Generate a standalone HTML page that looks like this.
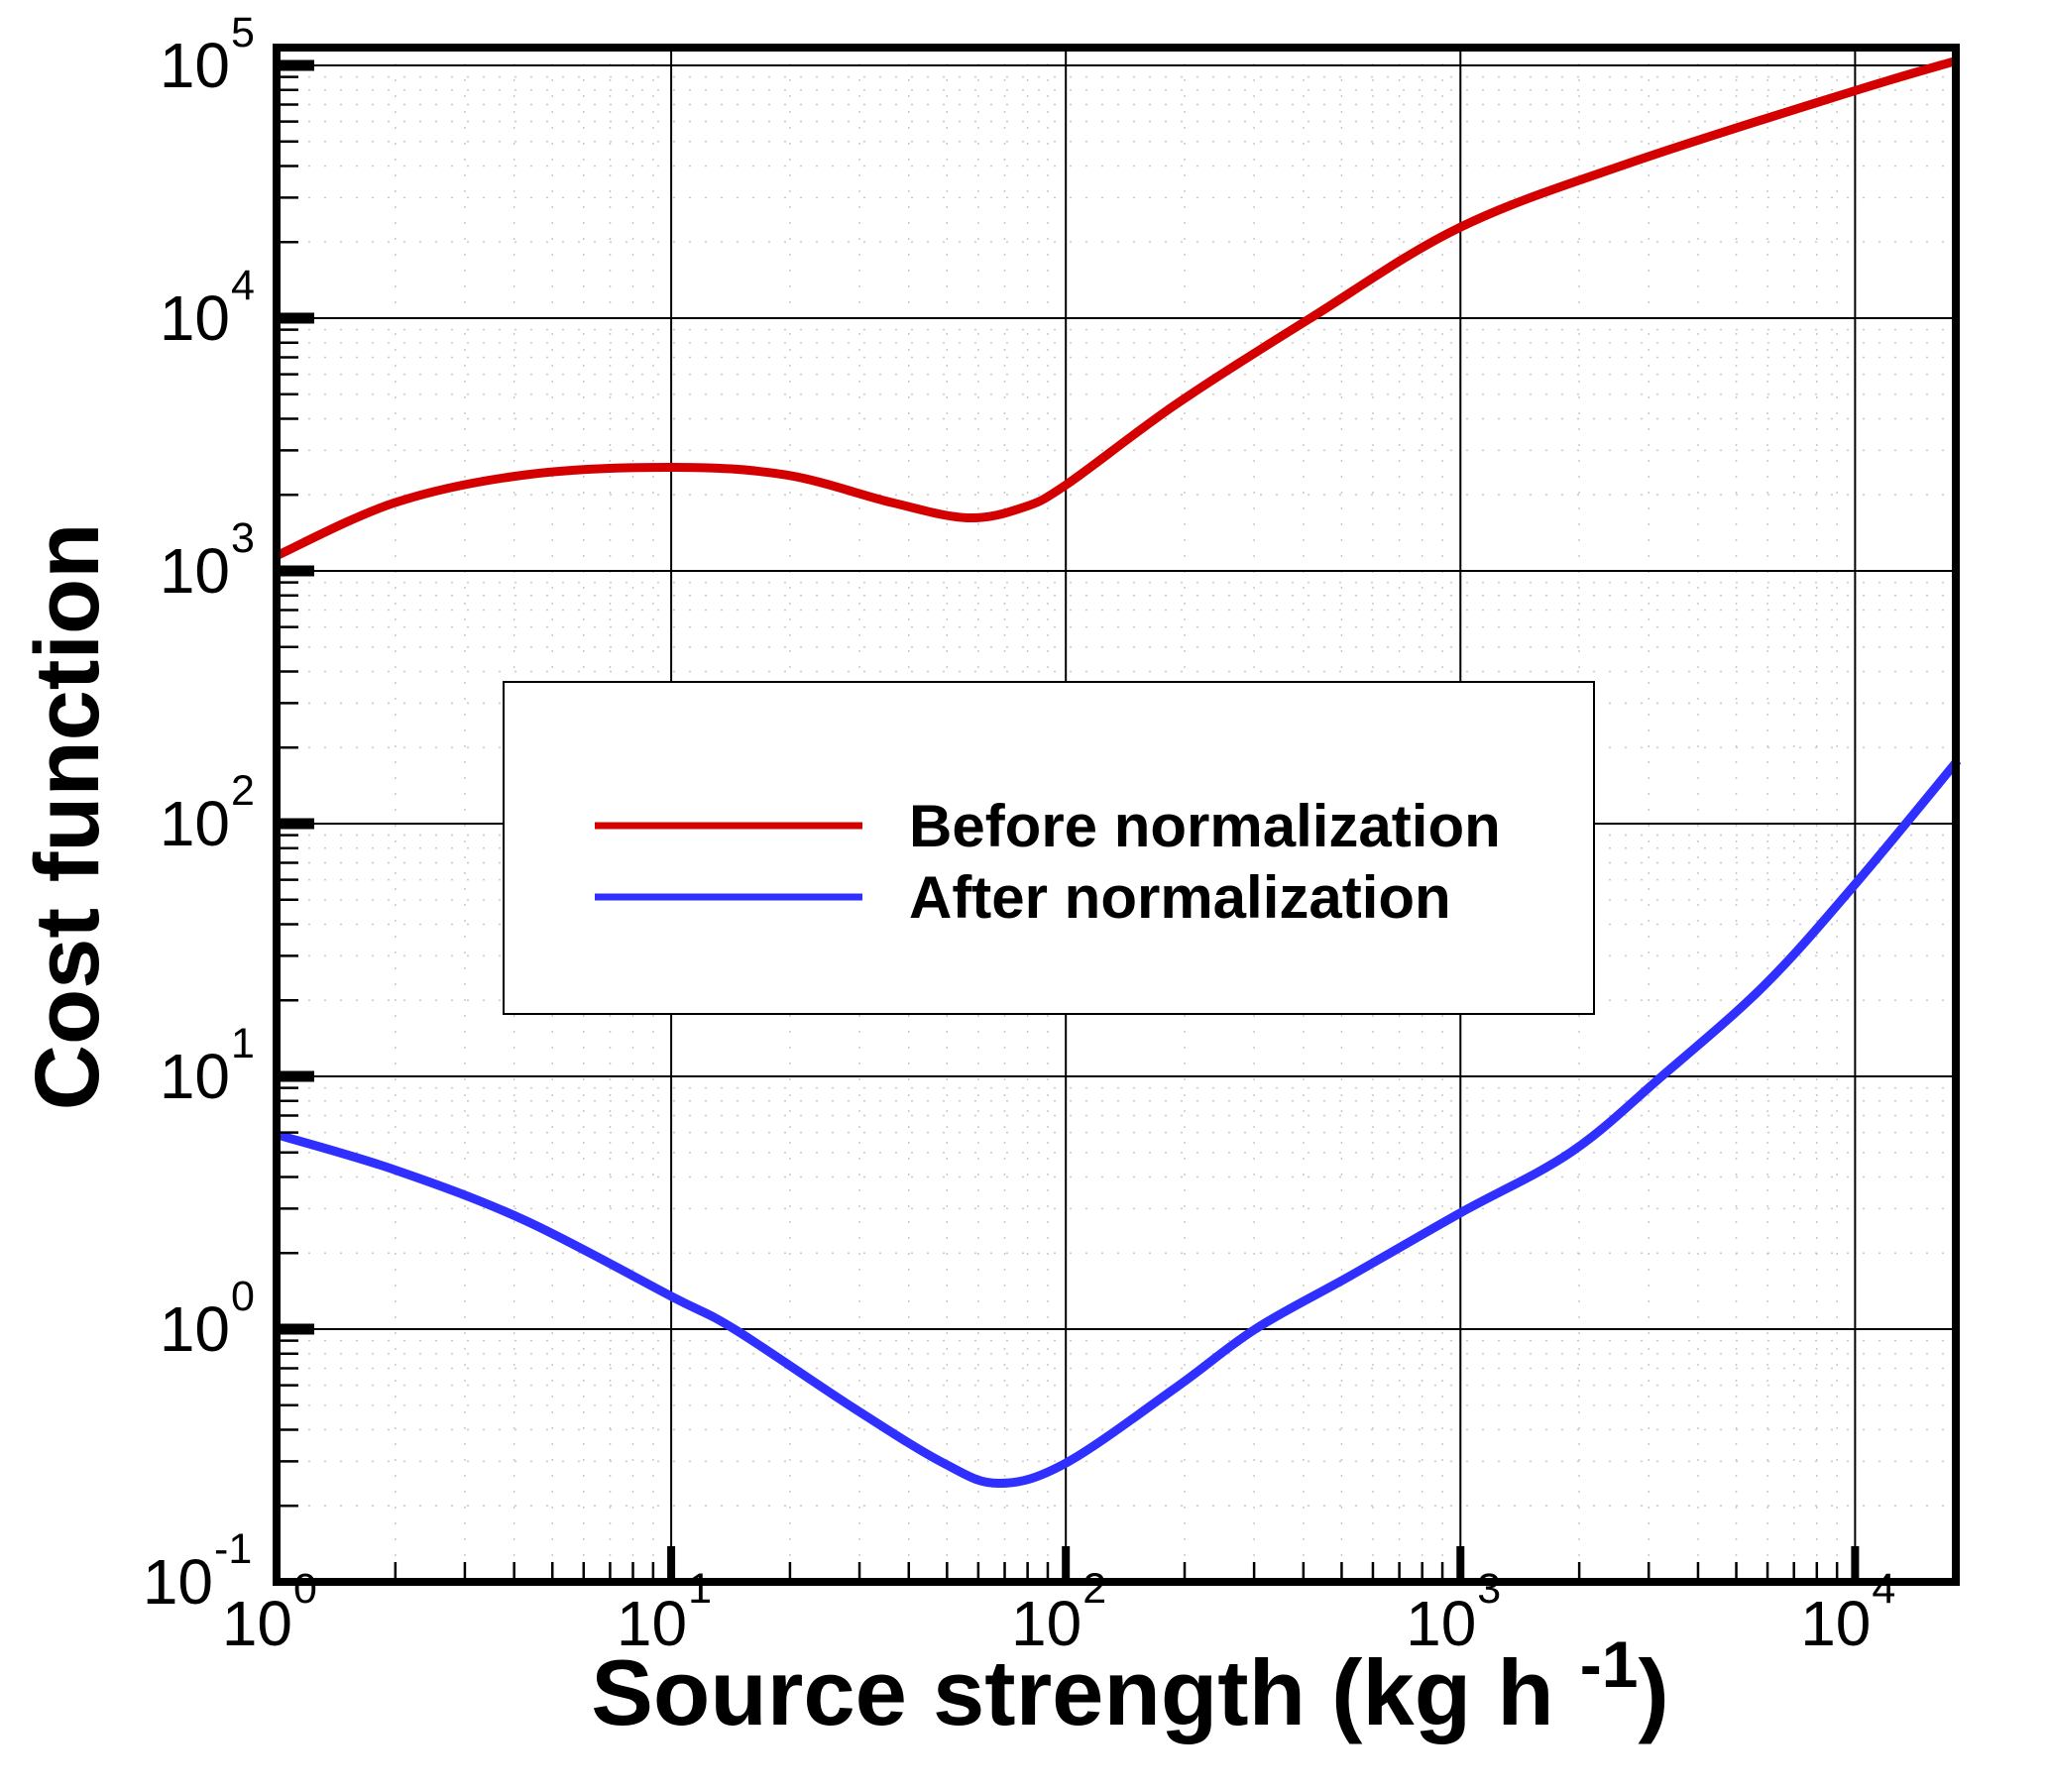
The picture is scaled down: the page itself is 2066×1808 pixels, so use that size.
<!DOCTYPE html>
<html><head><meta charset="utf-8"><style>
html,body{margin:0;padding:0;background:#fff;}
svg{display:block;font-family:"Liberation Sans",Arial,sans-serif;}
</style></head><body>
<svg id="chart" width="2066" height="1808" viewBox="0 0 2066 1808" xmlns="http://www.w3.org/2000/svg">
<g id="grid"></g>
<g id="series"></g>
<g id="axes"></g>
<g id="legend"></g>
<text x="1140" y="1740" text-anchor="middle" font-size="94" font-weight="bold">Source strength (kg h <tspan font-size="66" dy="-38">-1</tspan><tspan dy="38">)</tspan></text>
<text transform="translate(99,824) rotate(-90)" text-anchor="middle" font-size="92" font-weight="bold">Cost function</text>
</svg>
<script>
// data (log10 values)
const redLogX = [0, 0.30, 0.63, 1.0, 1.29, 1.56, 1.75, 1.89, 2.0, 2.28, 2.62, 3.0, 3.44, 4.0, 4.26];
const redLogY = [3.06, 3.27, 3.38, 3.41, 3.38, 3.27, 3.21, 3.25, 3.34, 3.66, 4.0, 4.36, 4.62, 4.90, 5.02];
const blueLogX = [0, 0.30, 0.63, 1.0, 1.16, 1.46, 1.69, 1.83, 2.0, 2.28, 2.48, 2.72, 3.0, 3.28, 3.51, 3.77, 4.0, 4.26];
const blueLogY = [0.77, 0.63, 0.43, 0.13, 0.0, -0.31, -0.53, -0.61, -0.53, -0.23, 0.0, 0.21, 0.46, 0.70, 1.0, 1.36, 1.76, 2.25];
const xTickExps = [0, 1, 2, 3, 4];
const yTickExps = [-1, 0, 1, 2, 3, 4, 5];
const legendLabels = ["Before normalization", "After normalization"];

const NS = "http://www.w3.org/2000/svg";
const L = 279, R = 1973, T = 48, B = 1596;
const xMin = 0, xMax = Math.log10(18000);
const yMin = -1, yDec = 255;
function sx(lx){ return L + (lx - xMin) / (xMax - xMin) * (R - L); }
function sy(ly){ return B - (ly - yMin) * yDec; }
function el(tag, attrs, parent){ const e = document.createElementNS(NS, tag); for (const k in attrs) e.setAttribute(k, attrs[k]); parent.appendChild(e); return e; }

const grid = document.getElementById('grid');
const axes = document.getElementById('axes');
for (let d = 0; d <= 4; d++) for (let m = 2; m <= 9; m++) {
  const lx = d + Math.log10(m); if (lx > xMax) continue; const x = sx(lx);
  const g = el('line', {x1:x, x2:x, y1:T, y2:B, stroke:'#c8c8c8', 'stroke-width':1.5, 'stroke-dasharray':'2 14'}, grid);
  
  
  const t = el('line', {x1:x, x2:x, y1:B, y2:B-20, stroke:'#000', 'stroke-width':2.5}, axes);
  
  
}
for (let d = -1; d <= 5; d++) for (let m = 2; m <= 9; m++) {
  const ly = d + Math.log10(m); const y = sy(ly); if (y < T) continue;
  const g = el('line', {x1:L, x2:R, y1:y, y2:y, stroke:'#c8c8c8', 'stroke-width':1.5, 'stroke-dasharray':'2 14'}, grid);
  
  
  const t = el('line', {x1:L, x2:L+22, y1:y, y2:y, stroke:'#000', 'stroke-width':2.5}, axes);
  
  
}
xTickExps.forEach(e => {
  const x = sx(e);
  if (e > 0) {
    const g = el('line', {x1:x, x2:x, y1:T, y2:B, stroke:'#000', 'stroke-width':2}, grid);
    
    
    const t = el('line', {x1:x, x2:x, y1:B, y2:B-36, stroke:'#000', 'stroke-width':8}, axes);
    
    
  }
  const tx = el('text', {x:x+16, y:1660, 'text-anchor':'end', 'font-size':64}, axes);
  
  
  tx.textContent = '10';
  const sp = el('text', {x:x+17, y:1617, 'font-size':43}, axes);
  
  
  sp.textContent = String(e);
});
yTickExps.forEach(e => {
  const y = sy(e);
  if (e > -1) {
    const g = el('line', {x1:L, x2:R, y1:y, y2:y, stroke:'#000', 'stroke-width':2}, grid);
    
    
    const t = el('line', {x1:L, x2:L+38, y1:y, y2:y, stroke:'#000', 'stroke-width':11}, axes);
    
    
  }
  const exp = String(e);
  const expW = exp.length * 23 + (e < 0 ? -6 : 0);
  const tx = el('text', {x:255 - expW, y:y + 22, 'text-anchor':'end', 'font-size':64}, axes);
  
  
  tx.textContent = '10';
  const sp = el('text', {x:255 - expW + 1, y:y - 19, 'font-size':43}, axes);
  
  
  sp.textContent = exp;
});
const fr = el('rect', {x:L, y:T, width:R-L, height:B-T, fill:'none', stroke:'#000', 'stroke-width':8}, axes);



function pathFrom(xs, ys){
  const p = xs.map((v,i) => [sx(v), sy(ys[i])]);
  let d = 'M' + p[0][0] + ',' + p[0][1];
  for (let i = 0; i < p.length - 1; i++) {
    const p0 = p[Math.max(0,i-1)], p1 = p[i], p2 = p[i+1], p3 = p[Math.min(p.length-1,i+2)];
    const c1 = [p1[0] + (p2[0]-p0[0])/6, p1[1] + (p2[1]-p0[1])/6];
    const c2 = [p2[0] - (p3[0]-p1[0])/6, p2[1] - (p3[1]-p1[1])/6];
    d += ' C' + c1 + ' ' + c2 + ' ' + p2;
  }
  return d;
}
const series = document.getElementById('series');
const red = el('path', {d: pathFrom(redLogX, redLogY), fill:'none', stroke:'#d40000', 'stroke-width':9, 'stroke-linejoin':'round'}, series);


const blue = el('path', {d: pathFrom(blueLogX, blueLogY), fill:'none', stroke:'#2f2fff', 'stroke-width':9, 'stroke-linejoin':'round'}, series);



const lg = document.getElementById('legend');
const box = el('rect', {x:508, y:688, width:1100, height:335, fill:'#fff', stroke:'#000', 'stroke-width':2}, lg);


const colors = ['#d40000', '#2f2fff'];
legendLabels.forEach((lab, i) => {
  const y = 833 + i * 72;
  const ln = el('line', {x1:600, x2:870, y1:y, y2:y, stroke:colors[i], 'stroke-width':7}, lg);
  
  
  const t = el('text', {x:917, y:y + 21, 'font-size':60, 'font-weight':'bold'}, lg);
  
  
  t.textContent = lab;
});
</script>
</body></html>
